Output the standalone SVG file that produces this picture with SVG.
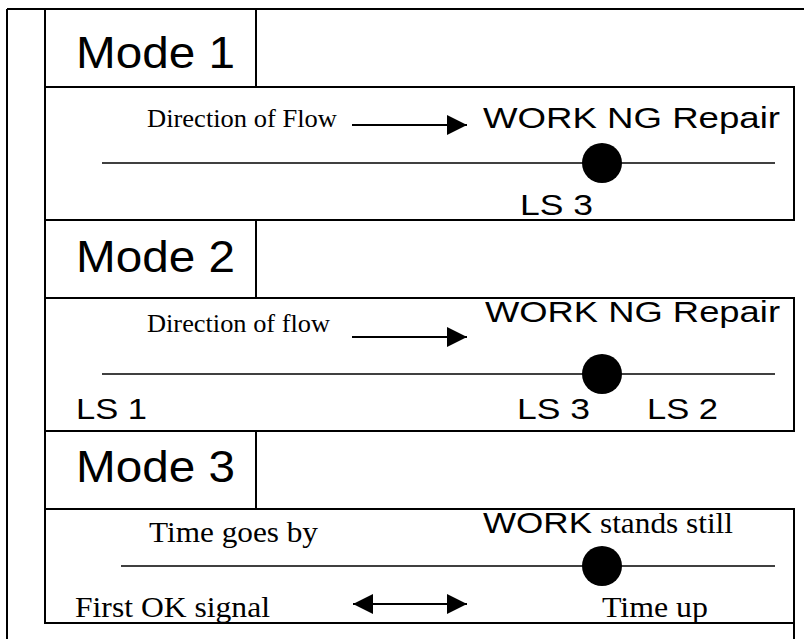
<svg xmlns="http://www.w3.org/2000/svg" width="804" height="639" viewBox="0 0 804 639">
<defs>
<style>
.frame{fill:none;stroke:#000;stroke-width:2}
.track{stroke:#000;stroke-width:1.5}
.flow{stroke:#000;stroke-width:2}
.dot{fill:#000}
.sans{font-family:"Liberation Sans",Arial,sans-serif;fill:#000}
.serif{font-family:"Liberation Serif","Times New Roman",serif;fill:#000}
.title{font-size:44px}
.lbl{font-size:30px}
.s25{font-size:25px}
.s30{font-size:30px}
</style>
<marker id="ah" viewBox="0 0 20 20" refX="20" refY="10" markerWidth="20" markerHeight="20" markerUnits="userSpaceOnUse" orient="auto-start-reverse">
<path d="M0,0 L20,10 L0,20 Z" fill="#000"/>
</marker>
</defs>
<rect width="804" height="639" fill="#fff"/>
<g id="frame">
<line class="frame" x1="7" y1="9" x2="7" y2="639"/>
<line class="frame" x1="7" y1="9" x2="804" y2="9"/>
<line class="frame" x1="794" y1="623" x2="794" y2="639"/>
</g>
<g id="mode1">
<rect class="frame" x="45" y="9" width="211" height="78"/>
<text class="sans title" x="76" y="68" textLength="159" lengthAdjust="spacingAndGlyphs">Mode 1</text>
<rect class="frame" x="45" y="87" width="749" height="133"/>
<text class="serif s25" x="147" y="127" textLength="190" lengthAdjust="spacingAndGlyphs">Direction of Flow</text>
<text class="sans lbl" x="483" y="128" textLength="297" lengthAdjust="spacingAndGlyphs">WORK NG Repair</text>
<line class="track" x1="102" y1="163" x2="775" y2="163"/>
<circle class="dot" cx="602" cy="163" r="20"/>
<text class="sans lbl" x="520" y="215" textLength="73" lengthAdjust="spacingAndGlyphs">LS 3</text>
</g>
<g id="mode2">
<rect class="frame" x="45" y="220" width="211" height="78"/>
<text class="sans title" x="76" y="272" textLength="159" lengthAdjust="spacingAndGlyphs">Mode 2</text>
<rect class="frame" x="45" y="298" width="749" height="133"/>
<text class="serif s25" x="147" y="332" textLength="183" lengthAdjust="spacingAndGlyphs">Direction of flow</text>
<text class="sans lbl" x="485" y="322" textLength="295" lengthAdjust="spacingAndGlyphs">WORK NG Repair</text>
<line class="track" x1="102" y1="374" x2="775" y2="374"/>
<circle class="dot" cx="602" cy="374" r="20"/>
<text class="sans lbl" x="76" y="419" textLength="71" lengthAdjust="spacingAndGlyphs">LS 1</text>
<text class="sans lbl" x="517" y="419" textLength="73" lengthAdjust="spacingAndGlyphs">LS 3</text>
<text class="sans lbl" x="647" y="419" textLength="71" lengthAdjust="spacingAndGlyphs">LS 2</text>
</g>
<g id="mode3">
<rect class="frame" x="45" y="431" width="211" height="78"/>
<text class="sans title" x="76" y="482" textLength="159" lengthAdjust="spacingAndGlyphs">Mode 3</text>
<rect class="frame" x="45" y="509" width="749" height="114"/>
<text class="serif s30" x="149" y="542" textLength="169" lengthAdjust="spacingAndGlyphs">Time goes by</text>
<text class="sans lbl" x="483" y="533" textLength="109" lengthAdjust="spacingAndGlyphs">WORK</text>
<text class="serif s30" x="600" y="533" textLength="133" lengthAdjust="spacingAndGlyphs">stands still</text>
<line class="track" x1="121" y1="566" x2="775" y2="566"/>
<circle class="dot" cx="602" cy="566" r="20"/>
<text class="serif s30" x="75" y="617" textLength="195" lengthAdjust="spacingAndGlyphs">First OK signal</text>
<text class="serif s30" x="602" y="617" textLength="106" lengthAdjust="spacingAndGlyphs">Time up</text>
</g>
<g id="connectors">
<line class="flow" x1="352" y1="125" x2="467" y2="125" marker-end="url(#ah)"/>
<line class="flow" x1="352" y1="337" x2="467" y2="337" marker-end="url(#ah)"/>
<line class="flow" x1="353" y1="604" x2="467" y2="604" marker-start="url(#ah)" marker-end="url(#ah)"/>
</g>
</svg>
